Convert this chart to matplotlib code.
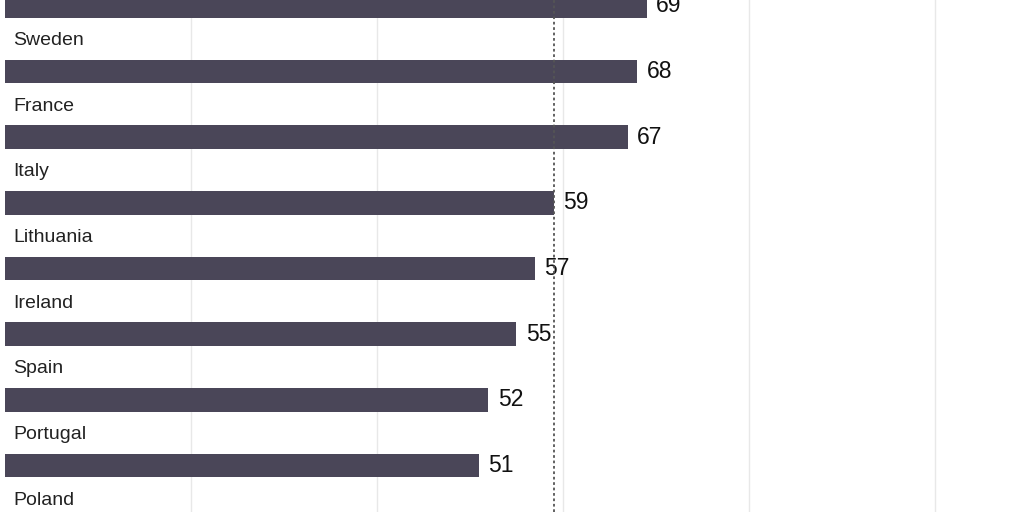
import matplotlib.pyplot as plt

# bar values (top bar's country label is cropped out of view)
values = [69, 68, 67, 59, 57, 55, 52, 51]
labels = ["Sweden", "France", "Italy", "Lithuania", "Ireland", "Spain", "Portugal", "Poland"]
average = 59
grid_ticks = [20, 40, 60, 80, 100]

plt.rcParams['font.family'] = ['Liberation Sans', 'DejaVu Sans']

fig = plt.figure(figsize=(10.24, 5.12), dpi=100)
ax = fig.add_axes([0, 0, 1, 1])

rows = list(range(len(values)))
ax.barh(rows, values, height=0.36, color='#4a4658', zorder=3)
for r, v in zip(rows, values):
    ax.text(v + 1.0, r, str(v), va='center', ha='left', fontsize=16.5, color='#111111', zorder=4)
for r, lab in enumerate(labels):
    ax.text(0.85, r + 0.53, lab, va='center', ha='left', fontsize=14, color='#222222')

for g in grid_ticks:
    ax.axvline(g, color='#e8e8e8', lw=1, zorder=1)
ax.axvline(average, color='#555555', lw=1.3, ls=(0, (1.5, 1.5)), zorder=5)

ax.set_xlim(-0.54, 109.6)
ax.set_ylim(7.71, -0.09)
ax.axis('off')
fig.savefig('out.png', dpi=100)
